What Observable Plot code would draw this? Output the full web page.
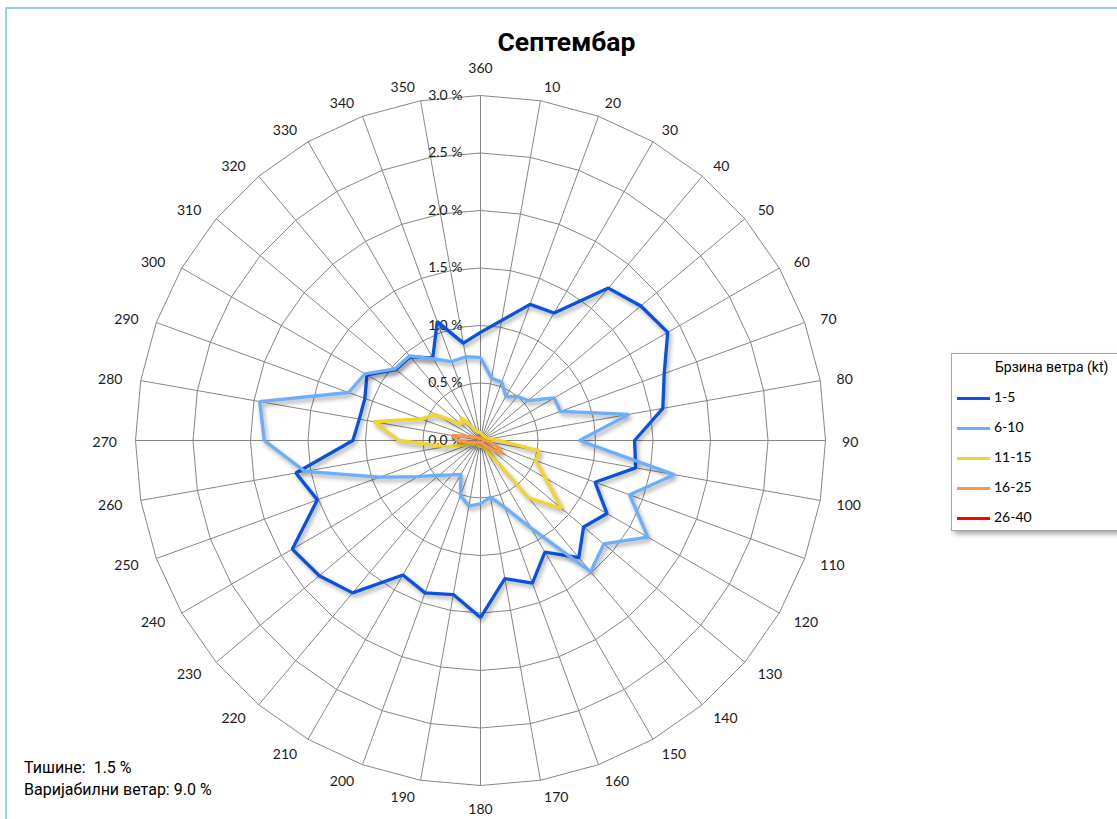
<!DOCTYPE html>
<html>
<head>
<meta charset="utf-8">
<script src="https://cdn.jsdelivr.net/npm/d3@7"></script>
<script src="https://cdn.jsdelivr.net/npm/@observablehq/plot@0.6"></script>
<style>
  html, body { margin: 0; padding: 0; background: #fff; }
  body { width: 1117px; height: 819px; overflow: hidden; position: relative; }
  #frame { position: absolute; left: 5px; top: 7px; width: 1300px; height: 1000px;
           border-top: 2px solid #9cd0de; border-left: 2px solid #9cd0de; }
  #chart { position: absolute; left: 0; top: 0; }
  #title { position: absolute; left: 0; top: 26px; width: 1133px; text-align: center;
           font: bold 26.5px Roboto, "Open Sans", sans-serif; color: #000; }
  #legend { position: absolute; left: 951px; top: 353px; width: 200px; height: 176px;
            border: 1px solid #a6a6a6; background: #fff; box-shadow: 3px 3px 5px rgba(0,0,0,0.35);
            font: 14px Lato, Roboto, sans-serif; color: #000; }
  #legend .ttl { position: absolute; left: 43px; top: 5px; font: 14px Roboto, sans-serif; }
  #legend .item { position: absolute; left: 5px; height: 20px; line-height: 20px; }
  #legend .sw { display: inline-block; width: 33px; height: 3px; vertical-align: middle; margin-right: 4px; }
  #note { position: absolute; left: 24px; top: 757px; font: 16px Roboto, sans-serif; color: #000;
          line-height: 22px; white-space: pre; }
</style>
</head>
<body>
<div id="frame"></div>
<div id="chart"></div>
<div id="title"></div>
<div id="legend"></div>
<div id="note"></div>
<script>
// ---- data ----
const chartTitle = "Септембар";
const legendTitle = "Брзина ветра (kt)";
const directions = [10,20,30,40,50,60,70,80,90,100,110,120,130,140,150,160,170,180,
                    190,200,210,220,230,240,250,260,270,280,290,300,310,320,330,340,350,360];
const seriesNames = ["1-5", "6-10", "11-15", "16-25", "26-40"];
const seriesColors = ["#0752e4", "#6aaefc", "#f2d52a", "#f79646", "#ff0000"];
const speed_1_5 = [1.06,1.26,1.28,1.73,1.82,1.88,1.70,1.61,1.34,1.37,1.06,1.27,1.17,1.33,1.12,1.32,1.22,1.54,
                   1.36,1.41,1.35,1.73,1.83,1.89,1.51,1.63,1.11,1.07,1.07,1.14,0.96,0.95,0.83,1.10,0.86,0.94];
const speed_6_10 = [0.55,0.54,0.44,0.50,0.54,0.74,0.74,1.31,0.86,1.71,1.38,1.68,1.40,1.49,0.88,0.62,0.50,0.55,
                    0.58,0.51,0.34,0.39,0.47,0.63,0.93,1.55,1.88,1.95,1.22,1.16,0.97,0.96,0.82,0.73,0.74,0.72];
const speed_11_15 = [0.05,0.05,0.05,0.05,0.05,0.05,0.06,0.08,0.17,0.52,0.51,0.65,0.92,0.65,0.08,0.05,0.05,0.05,
                     0.05,0.05,0.05,0.05,0.05,0.06,0.10,0.31,0.71,0.94,0.55,0.45,0.22,0.26,0.12,0.08,0.07,0.07];
const speed_16_25 = [0.02,0.02,0.02,0.02,0.02,0.02,0.02,0.03,0.04,0.08,0.15,0.22,0.12,0.05,0.02,0.02,0.02,0.02,
                     0.02,0.02,0.02,0.02,0.02,0.03,0.05,0.10,0.20,0.25,0.10,0.05,0.04,0.03,0.02,0.02,0.02,0.02];
const speed_26_40 = [0,0,0,0,0,0,0,0,0,0,0,0,0,0,0,0,0,0,
                     0,0,0,0,0,0,0,0,0,0,0,0,0,0,0,0,0,0];
const ringValues = [0.5, 1.0, 1.5, 2.0, 2.5, 3.0];
const radialTickValues = [0, 0.5, 1.0, 1.5, 2.0, 2.5, 3.0];
const radialTickLabels = ["0.0 %", "0.5 %", "1.0 %", "1.5 %", "2.0 %", "2.5 %", "3.0 %"];
const angleLabels = directions.map(String);
const noteLines = ["Тишине:  1.5 %", "Варијабилни ветар: 9.0 %"];

// ---- build ----
const seriesValues = [speed_1_5, speed_6_10, speed_11_15, speed_16_25, speed_26_40];
const rMax = 3;
const labelR = 3.135;
const rad = d => d * Math.PI / 180;
const pol = (deg, v) => ({x: v * Math.sin(rad(deg)), y: v * Math.cos(rad(deg))});

const ringPts = [];
ringValues.forEach(rv => {
  directions.concat([directions[0]]).forEach(d => ringPts.push({ring: rv, ...pol(d, rv)}));
});
const spokes = directions.map(d => { const p = pol(d, rMax); return {x1: 0, y1: 0, x2: p.x, y2: p.y}; });
const angleText = directions.map((d, i) => ({d, ...pol(d, labelR), label: angleLabels[i]}));
const rightLabels = angleText.filter(a => a.d > 0 && a.d < 180);
const leftLabels = angleText.filter(a => a.d > 180 && a.d < 360);
const topLabels = angleText.filter(a => a.d === 360);
const bottomLabels = angleText.filter(a => a.d === 180);
const radialText = radialTickValues.map((v, i) => ({x: 0, y: v, label: radialTickLabels[i]}));

const seriesMarks = seriesValues.map((vals, si) => {
  const pts = directions.map((d, i) => pol(d, vals[i]));
  pts.push(pts[0]);
  return Plot.line(pts, {x: "x", y: "y", stroke: seriesColors[si], strokeWidth: 3.3,
                         curve: "linear", strokeLinecap: "butt", strokeLinejoin: "miter"});
});

const lblStyle = {x: "x", y: "y", text: "label", fill: "#1a1a1a", fontSize: 14};
const chart = Plot.plot({
  width: 1117,
  height: 819,
  margin: 0,
  x: {domain: [-rMax, rMax], range: [135, 825], axis: null},
  y: {domain: [-rMax, rMax], range: [785, 95], axis: null},
  style: {fontFamily: "Lato, Roboto, sans-serif", fontSize: "14px", background: "transparent", overflow: "visible"},
  marks: [
    Plot.line(ringPts, {x: "x", y: "y", z: "ring", stroke: "#868686", strokeWidth: 1, curve: "linear"}),
    Plot.link(spokes, {x1: "x1", y1: "y1", x2: "x2", y2: "y2", stroke: "#868686", strokeWidth: 1}),
    Plot.text(radialText, {...lblStyle, textAnchor: "end", dx: -18}),
    Plot.text(rightLabels, {...lblStyle, textAnchor: "start", dx: 1, dy: 2}),
    Plot.text(leftLabels, {...lblStyle, textAnchor: "end", dx: -3, dy: 2}),
    Plot.text(topLabels, {...lblStyle, dy: -11}),
    Plot.text(bottomLabels, {...lblStyle, dy: 8}),
    ...seriesMarks
  ]
});
document.getElementById("chart").appendChild(chart);

// drop shadow on series lines (all line groups after the grid rings)
const lineGroups = chart.querySelectorAll('g[aria-label="line"]');
lineGroups.forEach((g, i) => { if (i > 0) g.style.filter = "drop-shadow(2px 3px 2px rgba(0,0,0,0.35))"; });

document.getElementById("title").textContent = chartTitle;

const legend = document.getElementById("legend");
const lt = document.createElement("div"); lt.className = "ttl"; lt.textContent = legendTitle; legend.appendChild(lt);
seriesNames.forEach((n, i) => {
  const it = document.createElement("div");
  it.className = "item";
  it.style.top = (33 + i * 30) + "px";
  const sw = document.createElement("span"); sw.className = "sw"; sw.style.background = seriesColors[i];
  it.appendChild(sw);
  it.appendChild(document.createTextNode(n));
  legend.appendChild(it);
});

const note = document.getElementById("note");
noteLines.forEach(t => { const d = document.createElement("div"); d.textContent = t; note.appendChild(d); });
</script>
</body>
</html>
